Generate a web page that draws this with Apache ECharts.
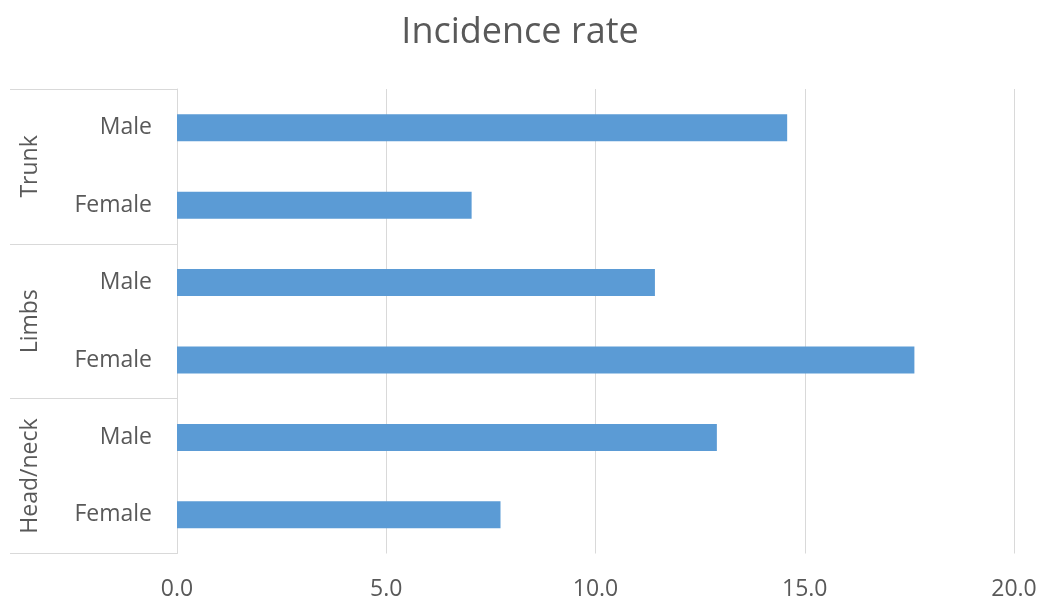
<!DOCTYPE html>
<html>
<head>
<meta charset="utf-8">
<script src="https://cdn.jsdelivr.net/npm/echarts@6/dist/echarts.min.js"></script>
<style>
html,body{margin:0;padding:0;background:#fff;}
#chart{width:1040px;height:601px;}
</style>
</head>
<body>
<div id="chart"></div>
<script>
const titleText = 'Incidence rate';
const groups = ['Trunk', 'Limbs', 'Head/neck'];
const sexes = ['Male', 'Female'];
const trunkValues = [14.58, 7.04];
const limbsValues = [11.42, 17.62];
const headNeckValues = [12.90, 7.73];
const xTicks = [0, 5, 10, 15, 20];

const categoryKeys = [];
const categoryLabels = [];
groups.forEach(g => sexes.forEach(s => { categoryKeys.push(g + '|' + s); categoryLabels.push(s); }));
const values = [].concat(trunkValues, limbsValues, headNeckValues);

const textColor = '#595959';
const lineColor = '#d9d9d9';
const font = 'Open Sans';

const chart = echarts.init(document.getElementById('chart'), null, {renderer: 'canvas'});
chart.setOption({
  animation: false,
  backgroundColor: '#ffffff',
  title: {
    text: titleText,
    left: 'center',
    top: 10,
    textStyle: {fontFamily: font, fontSize: 36, fontWeight: 'normal', color: textColor}
  },
  grid: {left: 177, right: 26, top: 89, bottom: 47.5, containLabel: false},
  xAxis: {
    type: 'value',
    min: xTicks[0],
    max: xTicks[xTicks.length - 1],
    interval: xTicks[1] - xTicks[0],
    axisLine: {show: false},
    axisTick: {show: false},
    splitLine: {show: true, lineStyle: {color: lineColor, width: 1}},
    axisLabel: {
      fontFamily: font, fontSize: 23, color: textColor, margin: 24,
      formatter: v => v.toFixed(1)
    }
  },
  yAxis: [
    {
      type: 'category',
      data: categoryKeys,
      inverse: true,
      axisLine: {show: true, lineStyle: {color: lineColor, width: 1}},
      axisTick: {show: false},
      axisLabel: {
        fontFamily: font, fontSize: 23, color: textColor, margin: 25,
        formatter: (v, i) => categoryLabels[i]
      }
    },
    {
      type: 'category',
      data: groups,
      inverse: true,
      position: 'left',
      offset: 167,
      axisLine: {show: false},
      axisTick: {show: true, inside: true, length: 167, lineStyle: {color: lineColor, width: 1}},
      axisLabel: {
        inside: true, rotate: 90, margin: 9,
        fontFamily: font, fontSize: 23, color: textColor
      }
    }
  ],
  series: [{
    type: 'bar',
    yAxisIndex: 0,
    data: values,
    barWidth: 27,
    itemStyle: {color: '#5b9bd5'}
  }]
});
</script>
</body>
</html>
